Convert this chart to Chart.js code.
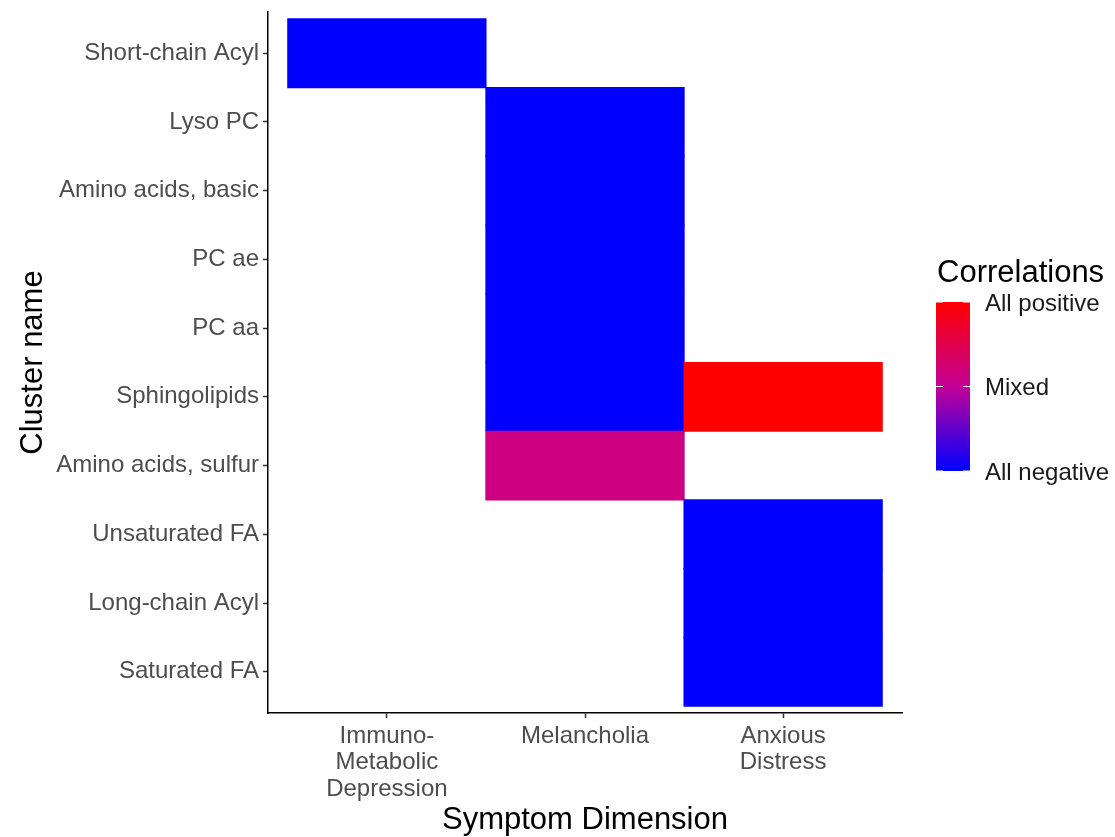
<!DOCTYPE html>
<html>
<head>
<meta charset="utf-8">
<script src="https://cdn.jsdelivr.net/npm/chart.js@4.4.0/dist/chart.umd.min.js"></script>
<style>
html, body { margin: 0; padding: 0; background: #fff; }
</style>
</head>
<body>
<canvas id="heat" width="1115" height="837"></canvas>
<script>
// symptom dimensions (x) and metabolite clusters (y, top to bottom)
const dimensions = [['Immuno-', 'Metabolic', 'Depression'], 'Melancholia', ['Anxious', 'Distress']];
const clusters = ['Short-chain Acyl', 'Lyso PC', 'Amino acids, basic', 'PC ae', 'PC aa',
  'Sphingolipids', 'Amino acids, sulfur', 'Unsaturated FA', 'Long-chain Acyl', 'Saturated FA'];

// one entry per filled tile
const cellCluster = ['Short-chain Acyl', 'Lyso PC', 'Amino acids, basic', 'PC ae', 'PC aa',
  'Sphingolipids', 'Amino acids, sulfur', 'Sphingolipids', 'Unsaturated FA', 'Long-chain Acyl', 'Saturated FA'];
const cellDimension = [0, 1, 1, 1, 1, 1, 1, 2, 2, 2, 2];
// -1 = all negative, 0 = mixed, 1 = all positive
const cellValue = [-1, -1, -1, -1, -1, -1, 0.15, 1, -1, -1, -1];

const legendTicks = [1, 0, -1];
const legendLabels = ['All positive', 'Mixed', 'All negative'];

const FONT = '"Liberation Sans", Arial, sans-serif';
Chart.defaults.font.family = FONT;

function corrColor(v) {
  // blue -> purple -> red
  const lo = [0, 0, 255], mid = [195, 0, 150], hi = [255, 0, 0];
  let a, b, t;
  if (v < 0) { a = lo; b = mid; t = v + 1; } else { a = mid; b = hi; t = v; }
  const c = a.map((x, i) => Math.round(x + (b[i] - x) * t));
  return 'rgb(' + c[0] + ',' + c[1] + ',' + c[2] + ')';
}

const cells = cellCluster.map(function(name, i) {
  const col = cellDimension[i] + 1;
  return { y: clusters.indexOf(name) + 1, x: [col - 0.5, col + 0.5], v: cellValue[i] };
});

// colour bar legend
const colorBar = {
  id: 'colorBar',
  afterDraw(chart) {
    const c = chart.ctx;
    const x0 = 936, w = 34, top = 302, bottom = 471;
    c.save();
    c.fillStyle = '#000';
    c.font = '31px ' + FONT;
    c.textBaseline = 'middle';
    c.textAlign = 'left';
    c.fillText('Correlations', 937, 273);

    const g = c.createLinearGradient(0, bottom, 0, top);
    for (let s = 0; s <= 20; s++) g.addColorStop(s / 20, corrColor(-1 + s / 10));
    c.fillStyle = g;
    c.fillRect(x0, top, w, bottom - top);

    c.font = '24px ' + FONT;
    c.fillStyle = '#1a1a1a';
    legendTicks.forEach(function(v, i) {
      const y = bottom - (v + 1) / 2 * (bottom - top);
      c.strokeStyle = '#fff';
      c.lineWidth = 1;
      c.beginPath();
      c.moveTo(x0, y); c.lineTo(x0 + 7, y);
      c.moveTo(x0 + w - 7, y); c.lineTo(x0 + w, y);
      c.stroke();
      c.fillText(legendLabels[i], 985, y + 2);
    });
    c.restore();
  }
};

new Chart(document.getElementById('heat'), {
  type: 'bar',
  data: {
    datasets: [{
      data: cells,
      backgroundColor: ctx => corrColor(ctx.raw ? ctx.raw.v : 0),
      borderWidth: 0,
      inflateAmount: 0.6,
      barPercentage: 1,
      categoryPercentage: 1
    }]
  },
  options: {
    indexAxis: 'y',
    responsive: false,
    animation: false,
    devicePixelRatio: 1,
    layout: { padding: { top: 12, right: 213, left: 0, bottom: 0 } },
    plugins: { legend: { display: false }, tooltip: { enabled: false } },
    scales: {
      x: {
        type: 'linear',
        min: 0.4,
        max: 3.6,
        offset: false,
        afterBuildTicks: s => { s.ticks = dimensions.map((d, i) => ({ value: i + 1 })); },
        afterFit: s => { s.height = 124; },
        ticks: {
          callback: v => dimensions[v - 1],
          color: '#4d4d4d',
          font: { size: 24, lineHeight: 1.1 },
          padding: 5,
          maxRotation: 0,
          autoSkip: false
        },
        grid: { display: true, offset: false, drawOnChartArea: false, drawTicks: true, tickLength: 5, tickColor: '#333', tickWidth: 1.5 },
        border: { display: true, color: '#000', width: 1.5 },
        title: { display: true, text: 'Symptom Dimension', color: '#000', font: { size: 31 }, padding: { top: 0, bottom: -2 } }
      },
      y: {
        type: 'linear',
        reverse: true,
        min: 0.4,
        max: 10.6,
        offset: false,
        afterBuildTicks: s => { s.ticks = clusters.map((c, i) => ({ value: i + 1 })); },
        afterFit: s => { s.width = 268; s.paddingTop = 0; s.paddingBottom = 0; },
        ticks: {
          callback: v => clusters[v - 1],
          color: '#4d4d4d',
          font: { size: 24 },
          padding: 4,
          autoSkip: false
        },
        grid: { display: true, offset: false, drawOnChartArea: false, drawTicks: true, tickLength: 5, tickColor: '#333', tickWidth: 1.5 },
        border: { display: true, color: '#000', width: 1.5 },
        title: { display: true, text: 'Cluster name', color: '#000', font: { size: 31 }, padding: { top: 15, bottom: 0 } }
      }
    }
  },
  plugins: [colorBar]
});
</script>
</body>
</html>
